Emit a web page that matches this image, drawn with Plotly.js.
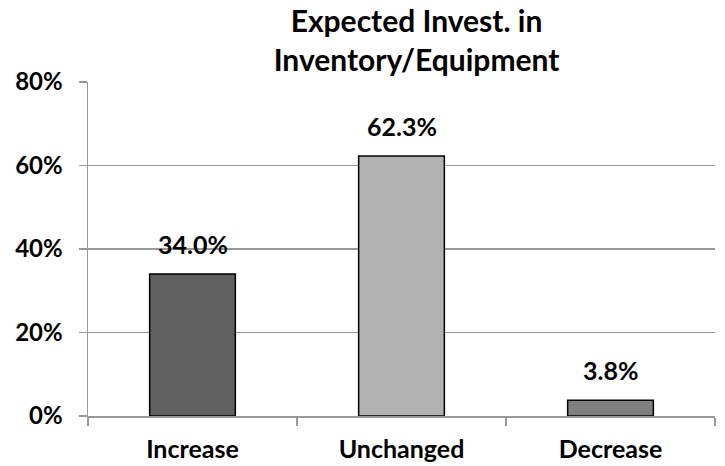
<!DOCTYPE html>
<html>
<head>
<meta charset="utf-8">
<script src="https://cdn.plot.ly/plotly-3.0.1.min.js"></script>
<style>html,body{margin:0;padding:0;background:#fff;}#chart{width:725px;height:466px;}</style>
</head>
<body>
<div id="chart"></div>
<script>
const categories = ["Increase", "Unchanged", "Decrease"];
const values = [0.340, 0.623, 0.038];
const valueLabels = ["34.0%", "62.3%", "3.8%"];
const barColors = ["#606060", "#b2b2b2", "#808080"];
const yTickVals = [0, 0.2, 0.4, 0.6, 0.8];
const yTickText = ["0%", "20%", "40%", "60%", "80%"];
const titleText = "Expected Invest. in<br>Inventory/Equipment";

const FONT = "Lato, 'Open Sans', sans-serif";
const gridColor = "#999999";

const trace = {
  type: "bar",
  x: categories,
  y: values,
  marker: { color: barColors, line: { color: "#000000", width: 1.5 } },
  width: 0.41,
  hoverinfo: "none"
};

const annotations = categories.map((c, i) => ({
  x: c, y: values[i], xref: "x", yref: "y",
  text: "<b>" + valueLabels[i] + "</b>",
  showarrow: false, yanchor: "bottom", yshift: 13,
  font: { family: FONT, size: 25, color: "#000000" }
}));

const layout = {
  width: 725, height: 466,
  margin: { l: 88, r: 10, t: 82, b: 50 },
  paper_bgcolor: "#ffffff", plot_bgcolor: "#ffffff",
  showlegend: false,
  title: {
    text: "<b>" + titleText + "</b>",
    font: { family: FONT, size: 30, color: "#000000" },
    x: 0.524, xanchor: "center", xref: "paper",
    y: 0.932, yanchor: "middle", yref: "container"
  },
  xaxis: {
    type: "category",
    range: [-0.5, 2.5],
    showline: true, linecolor: gridColor, linewidth: 1.5,
    ticks: "outside", tickson: "boundaries", ticklen: 8, tickcolor: gridColor, tickwidth: 1.5,
    showgrid: false, zeroline: false,
    tickfont: { family: FONT, size: 25, color: "#000000", weight: "bold" },
    ticklabelstandoff: 10
  },
  yaxis: {
    range: [0, 0.8],
    tickvals: yTickVals, ticktext: yTickText,
    showline: true, linecolor: gridColor, linewidth: 1.5,
    ticks: "outside", ticklen: 8, tickcolor: gridColor, tickwidth: 1.5,
    showgrid: true, gridcolor: gridColor, gridwidth: 1.5,
    zeroline: false,
    tickfont: { family: FONT, size: 24, color: "#000000", weight: "bold" },
    ticklabelstandoff: 11
  },
  annotations: annotations
};

Plotly.newPlot("chart", [trace], layout, { displayModeBar: false, staticPlot: true });
</script>
</body>
</html>
